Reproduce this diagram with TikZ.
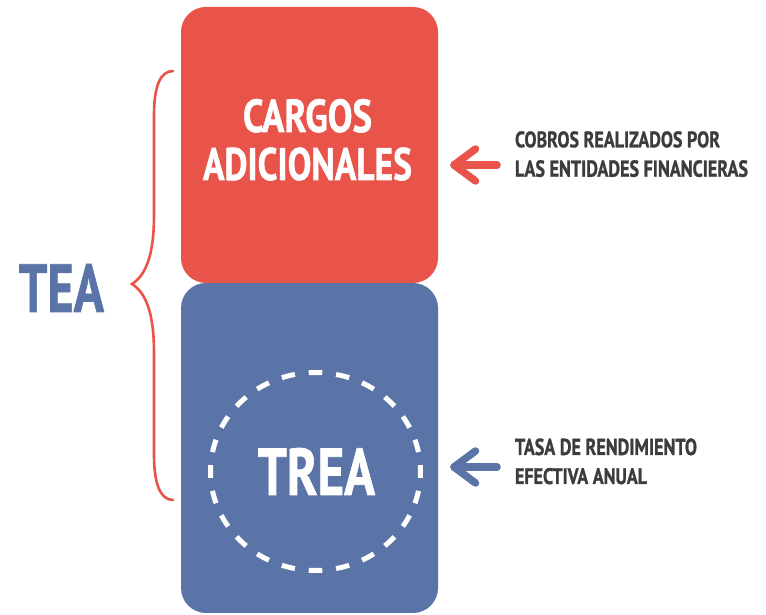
\documentclass[tikz,border=0pt]{standalone}
\usepackage{fontspec}
\setmainfont{PT Sans}
\newfontfamily\heavy[BoldFeatures={FakeBold=1.2}]{PT Sans}
\usepackage{graphicx}
\definecolor{redc}{HTML}{E9544A}
\definecolor{bluec}{HTML}{5A74A7}
\definecolor{textc}{HTML}{3C3C3C}
\newcommand{\fitt}[3]{\resizebox{#1pt}{#2pt}{\heavy\bfseries #3}}
\begin{document}
\begin{tikzpicture}[x=1pt,y=1pt,
  lbl/.style={inner sep=0pt, outer sep=0pt},
  boxstyle/.style={rounded corners=25pt},
  arr/.style={line width=7.5pt, line cap=round, line join=round}]
\useasboundingbox (0,0) rectangle (766,615);
% boxes
\fill[bluec, boxstyle] (181,2) rectangle (438,332);
\fill[redc, boxstyle] (181,332) rectangle (438,608);
\coordinate (redbox) at (309.5,470);
\coordinate (bluebox) at (309.5,167);
% dashed ellipse
\coordinate (cc) at (315.5,143.5);
\foreach \a in {0,15,...,345}{
  \draw[white, line width=5pt] (cc) ++(\a-3.7:105 and 99) arc[start angle=\a-3.7, end angle=\a+3.7, x radius=105, y radius=99];
}
% texts in boxes
\node[lbl, anchor=base, text=white] (cargos) at (307.5,483) {\fitt{129}{33}{CARGOS}};
\node[lbl, anchor=base, text=white] (adic) at (307.5,435) {\fitt{209}{32.5}{ADICIONALES}};
\node[lbl, anchor=base, text=white] (trea) at (316.5,120) {\fitt{117}{47}{TREA}};
% TEA
\node[lbl, anchor=base, text=bluec] (tea) at (61.5,303) {\fitt{85}{48}{TEA}};
% brace
\draw[redc, line width=2.6pt, line cap=round]
  (173,544) .. controls (160,544) and (154,528) .. (154,500)
  -- (154,400) .. controls (154,360) and (146,340) .. (132,331)
  .. controls (146,322) and (154,302) .. (154,262)
  -- (154,160) .. controls (154,132) and (160,115) .. (173,115);
% right labels
\node[lbl, anchor=base west, text=textc] (r1) at (515,467.7) {\fitt{205}{16}{COBROS REALIZADOS POR}};
\node[lbl, anchor=base west, text=textc] (r2) at (515,438.3) {\fitt{233}{16.5}{LAS ENTIDADES FINANCIERAS}};
\node[lbl, anchor=base west, text=textc] (b1) at (515,160) {\fitt{182}{16.5}{TASA DE RENDIMIENTO}};
\node[lbl, anchor=base west, text=textc] (b2) at (515,131) {\fitt{132}{16}{EFECTIVA ANUAL}};
% arrows
\coordinate (ra0) at (497,450);
\coordinate (ra1) at (454,450);
\coordinate (rw1) at (475.5,466);
\coordinate (rw2) at (475.5,434);
\draw[redc, arr] (ra0) -- (ra1);
\draw[redc, arr] (rw1) -- (ra1) -- (rw2);
\coordinate (ba0) at (497,148);
\coordinate (ba1) at (454,148);
\coordinate (bw1) at (475.5,164);
\coordinate (bw2) at (475.5,132);
\draw[bluec, arr] (ba0) -- (ba1);
\draw[bluec, arr] (bw1) -- (ba1) -- (bw2);
\end{tikzpicture}
\end{document}
